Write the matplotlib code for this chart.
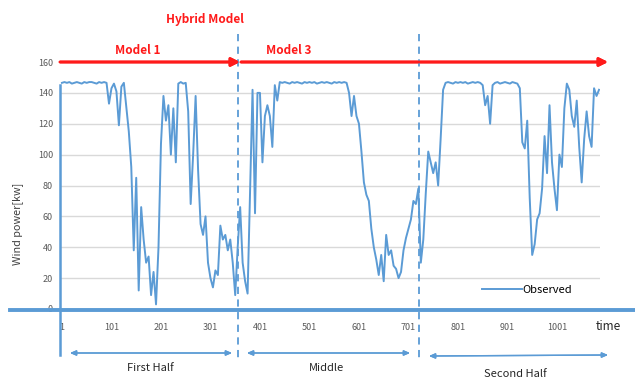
import numpy as np
import matplotlib
matplotlib.use("Agg")
import matplotlib.pyplot as plt
from matplotlib.lines import Line2D

plt.rcParams['font.family'] = ['Noto Sans CJK KR', 'DejaVu Sans']

# ---- data (observed wind power, sampled every 5 time steps) ----
time_step = 5
power = [
    146.5, 147, 146.5, 147, 146, 146.5, 147, 146.5, 146, 147,
    146.5, 147, 147, 146.5, 146, 147, 146.5, 147, 146.5, 133,
    143, 146, 141, 119, 144, 146.5, 131, 115, 92, 38,
    85, 12, 66, 45, 30, 34, 9, 24, 3, 40,
    107, 138, 122, 132, 100, 130, 95, 146, 147, 146,
    146.5, 128, 68, 100, 138, 90, 55, 48, 60, 30,
    20, 14, 25, 22, 54, 45, 48, 38, 45, 30,
    9, 40, 66, 30, 18, 10, 75, 142, 62, 140,
    140, 95, 125, 132, 125, 105, 145, 135, 147, 146.5,
    147, 146.5, 146, 147, 146.5, 147, 146.5, 146, 147, 146.5,
    147, 146.5, 147, 146, 146.5, 147, 146.5, 147, 146.5, 146,
    147, 146.5, 147, 146.5, 147, 146.5, 140, 125, 138, 125,
    120, 102, 82, 74, 70, 52, 40, 32, 22, 35,
    18, 48, 35, 38, 28, 26, 20, 24, 38, 46,
    52, 58, 70, 68, 78, 30, 45, 75, 102, 95,
    88, 95, 80, 110, 142, 146.5, 147, 146.5, 146, 147,
    146.5, 147, 146.5, 147, 146, 146.5, 147, 146.5, 147, 146.5,
    145, 132, 138, 120, 145, 146.5, 147, 146, 146.5, 147,
    146.5, 146, 147, 146.5, 146, 143, 108, 104, 122, 72,
    35, 42, 58, 62, 78, 112, 88, 132, 95, 78,
    64, 100, 92, 130, 146, 142, 125, 118, 135, 105,
    82, 110, 128, 112, 105, 143, 138, 142,
]
time = np.arange(1, time_step * len(power) + 1, time_step)
x_ticks = [1, 101, 201, 301, 401, 501, 601, 701, 801, 901, 1001]
y_ticks = [0, 20, 40, 60, 80, 100, 120, 140, 160]
boundaries = [356, 723]

W, H = 635, 381
BLUE = '#5b9bd5'
RED = '#ff1a1a'

def fx(x):
    return x / W

def fy(y):
    return 1 - y / H

fig = plt.figure(figsize=(W / 100, H / 100), dpi=100)
fig.patch.set_facecolor('white')

left, right, top, bottom = 60, 600, 62, 309
ax = fig.add_axes([fx(left), fy(bottom), (right - left) / W, (bottom - top) / H])
ax.set_xlim(-3, 1088)
ax.set_ylim(0, 160)

ax.plot(time, power, color=BLUE, lw=1.4, label='Observed', zorder=3)

ax.set_yticks(y_ticks)
ax.set_xticks(x_ticks)
ax.set_xticklabels([str(t) for t in x_ticks])
ax.grid(axis='y', color='#d9d9d9', lw=1)
ax.set_axisbelow(True)
for s in ax.spines.values():
    s.set_visible(False)
ax.tick_params(axis='both', length=0, labelsize=6.5, labelcolor='#595959')
ax.tick_params(axis='x', pad=10)
ax.tick_params(axis='y', pad=5)
ax.set_ylabel('Wind power[kw]', fontsize=7.8, color='#404040')
ax.yaxis.set_label_coords((23 - left) / (right - left), (bottom - 224) / (bottom - top))

# vertical dashed boundaries
for b in boundaries:
    xb = ax.transData.transform((b, 0))[0] / fig.dpi / fig.get_figwidth()
    fig.add_artist(Line2D([xb, xb], [fy(34), fy(360)], color=BLUE, lw=1.3,
                          ls=(0, (4, 3))))

# thick axis lines
fig.add_artist(Line2D([fx(10), fx(635)], [fy(310), fy(310)], color=BLUE, lw=2.8))
fig.add_artist(Line2D([fx(60), fx(60)], [fy(85), fy(355)], color=BLUE, lw=1.8))

# legend
leg = ax.legend(loc='center left', frameon=False, handlelength=3.6, handletextpad=0.0,
                borderpad=0, borderaxespad=0, fontsize=8,
                bbox_to_anchor=(fx(482), fy(290)), bbox_transform=fig.transFigure)

# red model arrows
arrow_kw = dict(arrowstyle='-|>,head_length=0.5,head_width=0.25', color=RED, lw=2,
                shrinkA=0, shrinkB=0)
fig.add_artist(plt.annotate('', xy=(fx(240), fy(62)), xytext=(fx(60), fy(62)),
                            xycoords='figure fraction', arrowprops=arrow_kw))
fig.add_artist(plt.annotate('', xy=(fx(608), fy(62)), xytext=(fx(241), fy(62)),
                            xycoords='figure fraction', arrowprops=arrow_kw))
fig.text(fx(205), fy(19), 'Hybrid Model', color=RED, fontsize=8.5, fontweight='bold',
         ha='center', va='center')
fig.text(fx(138), fy(51), 'Model 1', color=RED, fontsize=8.5, fontweight='bold',
         ha='center', va='center')
fig.text(fx(289), fy(51), 'Model 3', color=RED, fontsize=8.5, fontweight='bold',
         ha='center', va='center')

# bottom segment arrows
seg_kw = dict(arrowstyle='<|-|>,head_length=0.35,head_width=0.15', color=BLUE, lw=1,
              shrinkA=0, shrinkB=0)
segments = [((70, 353), (232, 353), 'First Half', (150, 368)),
            ((247, 353), (410, 353), 'Middle', (326, 368)),
            ((429, 356), (608, 355), 'Second Half', (515, 374))]
for (x0, y0), (x1, y1), label, (tx, ty) in segments:
    fig.add_artist(plt.annotate('', xy=(fx(x1), fy(y1)), xytext=(fx(x0), fy(y0)),
                                xycoords='figure fraction', arrowprops=seg_kw))
    fig.text(fx(tx), fy(ty), label, fontsize=8, color='#262626', ha='center', va='center')

fig.text(fx(608), fy(326), 'time', fontsize=8.5, color='#262626', ha='center', va='center')

fig.savefig('out.png', dpi=100, facecolor='white')
